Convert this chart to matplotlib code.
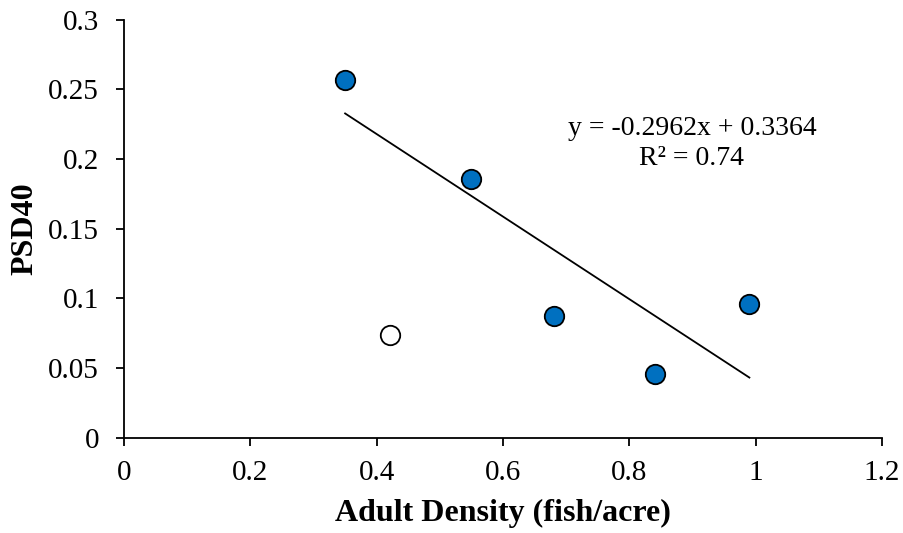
import matplotlib
matplotlib.use("Agg")
import matplotlib.pyplot as plt
import numpy as np
from matplotlib.ticker import FuncFormatter

# Adult density vs PSD40 (filled points used in trendline, open point excluded)
density = [0.35, 0.55, 0.68, 0.84, 0.99]
psd40 = [0.257, 0.186, 0.087, 0.046, 0.096]
excluded_density = [0.421]
excluded_psd40 = [0.074]

# Trendline from the chart label
slope = -0.2962
intercept = 0.3364
r_squared = 0.74

x_ticks = [0, 0.2, 0.4, 0.6, 0.8, 1.0, 1.2]
y_ticks = [0, 0.05, 0.1, 0.15, 0.2, 0.25, 0.3]

plt.rcParams['font.family'] = ['Liberation Serif', 'DejaVu Serif']

fig = plt.figure(figsize=(9.04, 5.33), dpi=100)
ax = fig.add_axes([0.1372, 0.1788, 0.8385, 0.7842])

# Trendline over range of fitted points
xs = np.array([min(density), max(density)])
ax.plot(xs, slope * xs + intercept, color='black', linewidth=1.3, zorder=2)

ax.plot(density, psd40, linestyle='none', marker='o', markersize=14,
        markerfacecolor='#0070C0', markeredgecolor='black',
        markeredgewidth=1.3, zorder=3)
ax.plot(excluded_density, excluded_psd40, linestyle='none', marker='o',
        markersize=14, markerfacecolor='white', markeredgecolor='black',
        markeredgewidth=1.3, zorder=3)

eq = "y = %.4fx + %.4f\nR\u00b2 = %.2f" % (slope, intercept, r_squared)
ax.text(0.899, 0.2113, eq, ha='center', va='center', multialignment='center',
        fontsize=20, linespacing=1.25)

ax.set_xlim(0, 1.2)
ax.set_ylim(0, 0.3)
ax.set_xticks(x_ticks)
ax.set_yticks(y_ticks)
ax.xaxis.set_major_formatter(FuncFormatter(lambda v, p: "%g" % round(v, 3)))
ax.yaxis.set_major_formatter(FuncFormatter(lambda v, p: "%g" % round(v, 3)))

for side in ['top', 'right']:
    ax.spines[side].set_visible(False)
for side in ['left', 'bottom']:
    ax.spines[side].set_linewidth(1.3)
    ax.spines[side].set_color('black')

ax.tick_params(axis='both', direction='out', length=6, width=1.3,
               labelsize=21, colors='black')
ax.tick_params(axis='y', pad=12)
ax.tick_params(axis='x', pad=10)

ax.set_xlabel("Adult Density (fish/acre)", fontsize=23, fontweight='bold',
              labelpad=9)
ax.set_ylabel("PSD40", fontsize=23, fontweight='bold', labelpad=6)

fig.savefig("out.png", dpi=100)
